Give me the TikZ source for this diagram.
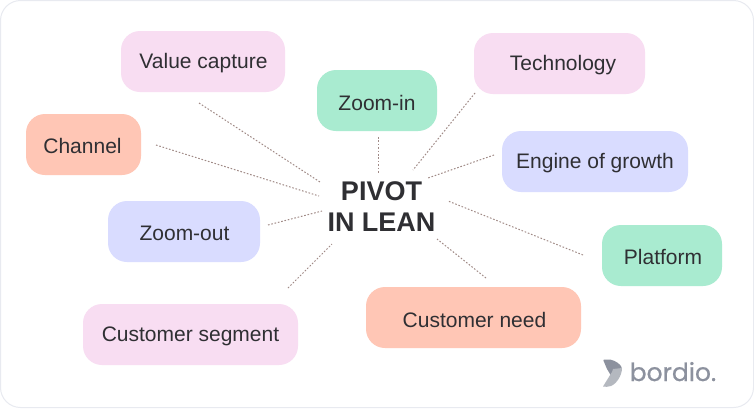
\documentclass[tikz,border=0pt]{standalone}
\usepackage{fontspec}
\setmainfont{Liberation Sans}
\newfontfamily\logofont[FakeBold=0.7]{Poppins}
\definecolor{pinkbox}{HTML}{F8DDF2}
\definecolor{greenbox}{HTML}{A9EBD0}
\definecolor{bluebox}{HTML}{D9DCFF}
\definecolor{salmonbox}{HTML}{FFC6B5}
\definecolor{inktext}{HTML}{2F2F33}
\definecolor{linkcol}{HTML}{A08A86}
\definecolor{logodark}{HTML}{8C919E}
\definecolor{logolight}{HTML}{B4B8BF}
\definecolor{framecol}{HTML}{E8EAF0}
\tikzset{
  x=1pt,y=-1pt,
  boxlabel/.style={font=\fontsize{21}{25}\selectfont,text=inktext,inner sep=0pt},
  link/.style={draw=linkcol,line width=1pt,dash pattern=on 1.6pt off 1.8pt},
  frame/.style={draw=framecol,fill=white,line width=1pt,rounded corners=20pt},
}
\newcommand{\pill}[5]{% x0,y0,x1,y1, color
  \path[fill=#5,rounded corners=19pt] (#1,#2) rectangle (#3,#4);
}
\begin{document}
\begin{tikzpicture}
\useasboundingbox (0,0) rectangle (754,408);
\path[frame] (0.5,0.5) rectangle (753.5,407.5);
% boxes
\pill{121}{31}{285}{92}{pinkbox}
\pill{317}{70}{437}{131}{greenbox}
\pill{474}{33}{645}{94}{pinkbox}
\pill{26}{114}{141}{175}{salmonbox}
\pill{502}{131}{688}{192}{bluebox}
\pill{108}{201}{260}{262}{bluebox}
\pill{602}{225}{722}{286}{greenbox}
\pill{83}{304}{298}{365}{pinkbox}
\pill{366}{287}{581}{348}{salmonbox}
% labels
\node[boxlabel] (valuecapture) at (203.5,63.5) {Value capture};
\node[boxlabel] (zoomin) at (377,102.5) {Zoom-in};
\node[boxlabel] (technology) at (563,65.5) {Technology};
\node[boxlabel] (channel) at (82.5,146) {Channel};
\node[boxlabel] (engine) at (595,163.5) {Engine of growth};
\node[boxlabel] (zoomout) at (184.5,233.5) {Zoom-out};
\node[boxlabel] (platform) at (663,257) {Platform};
\node[boxlabel] (segment) at (190.5,336.5) {Customer segment};
\node[boxlabel] (need) at (474.5,320) {Customer need};
\node[font=\fontsize{27}{31}\selectfont\bfseries,text=inktext,align=center,inner sep=0pt] (pivot) at (381.5,207) {PIVOT\\IN LEAN};
% connector ends
\coordinate (a1) at (199,103); \coordinate (a2) at (320,182);
\coordinate (b1) at (378,137); \coordinate (b2) at (378,173);
\coordinate (c1) at (475,93);  \coordinate (c2) at (413,170);
\coordinate (d1) at (156,145); \coordinate (d2) at (319,196);
\coordinate (e1) at (494,155); \coordinate (e2) at (428,178);
\coordinate (f1) at (268,225); \coordinate (f2) at (322,211);
\coordinate (g1) at (583,255); \coordinate (g2) at (448,201);
\coordinate (h1) at (288,288); \coordinate (h2) at (332,244);
\coordinate (i1) at (486,278); \coordinate (i2) at (437,239);
\foreach \n in {a,b,c,d,e,f,g,h,i}{\draw[link] (\n1) -- (\n2);}
% logo
\path[fill=logodark,rounded corners=1pt] (603,359.5) -- (610,359.5) .. controls (616,361) and (620,364) .. (622,368) -- (613,379) -- (607,369) -- cycle;
\path[fill=logolight] (622,368) .. controls (622,376) and (616,384) .. (611,386) .. controls (608,387) and (605,387) .. (603,386.5) -- (612,372) -- (613,369) -- cycle;
\node[font=\logofont\fontsize{25}{30}\selectfont,text=logodark,inner sep=0pt,anchor=base west] (logo) at (629.5,381) {bordio.};
\end{tikzpicture}
\end{document}
